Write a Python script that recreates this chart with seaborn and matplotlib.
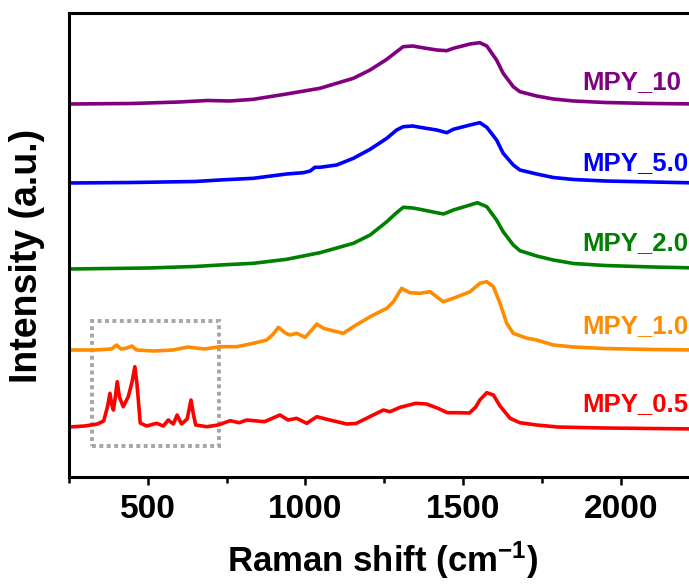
import numpy as np
import pandas as pd
import matplotlib
matplotlib.use("Agg")
import matplotlib.pyplot as plt
from matplotlib.patches import Rectangle
import seaborn as sns

# ---------------- data ----------------
series_names = ["MPY_10", "MPY_5.0", "MPY_2.0", "MPY_1.0", "MPY_0.5"]
series_colors = ["#800080", "#0000FF", "#008000", "#FF8C00", "#FF0000"]
offsets = [373, 294, 208, 127, 50]

x_mpy10 = [250, 450, 600, 690, 760, 835, 940, 1046, 1152, 1205, 1258, 1289, 1310, 1340,
           1363, 1416, 1448, 1469, 1522, 1553, 1575, 1606, 1627, 1659, 1680, 1733, 1786,
           1850, 1950, 2100, 2250]
y_mpy10 = [0, 0.5, 2, 3.5, 3, 4.7, 10, 15.7, 25.7, 34, 44.7, 52.3, 57.3, 58,
           56.7, 54, 53.3, 55.7, 60, 61.3, 58, 44, 30.7, 17.3, 12.3, 8, 5,
           3, 1.5, 0.5, 0]

x_mpy50 = [250, 450, 650, 729, 835, 940, 993, 1015, 1030, 1046, 1099, 1152, 1205, 1258,
           1289, 1310, 1340, 1363, 1416, 1448, 1469, 1522, 1553, 1575, 1606, 1627, 1659,
           1680, 1733, 1786, 1850, 1950, 2100, 2250]
y_mpy50 = [0, 0.5, 1.5, 3, 4.7, 9, 10.3, 12, 15.7, 15.7, 18, 24.7, 33.7, 44.7,
           53, 56.3, 57, 55.7, 53, 50.3, 53.7, 58, 60.3, 55.7, 43, 29.7, 18,
           13, 9, 5.5, 3.5, 2, 1, 0]

x_mpy20 = [250, 500, 650, 729, 835, 940, 1046, 1152, 1205, 1258, 1289, 1310, 1340, 1363,
           1416, 1438, 1469, 1522, 1545, 1575, 1606, 1627, 1659, 1680, 1733, 1786, 1850,
           1950, 2100, 2250]
y_mpy20 = [0, 1, 2.5, 4, 5.7, 9.7, 16.3, 25.7, 34, 47.3, 56.3, 61.7, 61, 59.7,
           56.3, 55, 59, 64, 66.3, 62.3, 49, 37.3, 24, 18.3, 13, 9, 5.5,
           3.5, 2, 1]

x_mpy10b = [250, 330, 385, 401, 415, 435, 449, 465, 520, 580, 627, 680, 729, 782, 835,
            877, 898, 914, 935, 951, 972, 999, 1020, 1036, 1057, 1099, 1120, 1152, 1205,
            1258, 1279, 1305, 1331, 1363, 1395, 1416, 1437, 1469, 1522, 1553, 1575, 1596,
            1617, 1638, 1659, 1700, 1733, 1786, 1850, 1950, 2100, 2250]
y_mpy10b = [0, 0, 1, 5, 1, 2, 4, 0, -1, 0, 3, 1, 3.3, 3.3, 6.7,
            10, 16, 22.7, 17.3, 15, 16.7, 12.7, 20, 26, 21.7, 18.3, 16.7, 23.3, 33.3,
            41.7, 48.3, 61.7, 57.3, 56.7, 58.3, 53.3, 48.3, 51.7, 58.3, 66.7, 68.3, 63.3,
            46.7, 26.7, 16.7, 12, 10, 5, 3, 1.5, 0.5, 0]

x_mpy05 = [250, 300, 340, 360, 372, 380, 386, 391, 397, 403, 410, 422, 438, 450, 459,
           465, 470, 476, 496, 528, 549, 565, 581, 593, 607, 625, 637, 645, 652, 687,
           723, 761, 790, 814, 870, 919, 945, 972, 1004, 1036, 1068, 1100, 1131, 1160,
           1200, 1247, 1268, 1300, 1350, 1384, 1420, 1450, 1480, 1520, 1540, 1553, 1575,
           1596, 1617, 1649, 1680, 1733, 1800, 1950, 2100, 2250]
y_mpy05 = [0, 1, 3, 6, 20, 33.7, 22, 17, 30, 45.3, 30, 20.3, 30.3, 45, 60.3,
           45, 27, 4, 1, 3.7, 1, 7, 3, 12, 3, 8, 27, 12, 2, 0.3,
           2, 6.3, 4.3, 7, 5.3, 12, 7, 8.7, 3.7, 10.3, 7.7, 5.3, 3, 3.5,
           9.7, 17, 15.3, 19.7, 23.7, 23, 18.7, 14.3, 14.3, 14, 20, 27, 34.3,
           32, 21, 8.7, 4.3, 2, 0, -1, -1.5, -2]

series_x = [x_mpy10, x_mpy50, x_mpy20, x_mpy10b, x_mpy05]
series_y = [y_mpy10, y_mpy50, y_mpy20, y_mpy10b, y_mpy05]

# highlighted region (dotted box)
box_shift = [322, 727]
box_int = [31, 156]

xticks_major = [500, 1000, 1500, 2000]
xticks_minor = [250, 750, 1250, 1750, 2250]

# ---------------- build table ----------------
rows = []
for name, xs, ys, off in zip(series_names, series_x, series_y, offsets):
    for xv, yv in zip(xs, ys):
        rows.append({"series": name, "shift": xv, "intensity": yv + off})
df = pd.DataFrame(rows)

# ---------------- plot ----------------
sns.set_theme(style="ticks")
plt.rcParams["font.family"] = ["Liberation Sans", "DejaVu Sans"]
plt.rcParams["font.weight"] = "bold"
plt.rcParams["text.color"] = "black"
plt.rcParams["axes.labelcolor"] = "black"
plt.rcParams["xtick.color"] = "black"
plt.rcParams["mathtext.fontset"] = "custom"
plt.rcParams["mathtext.rm"] = "Liberation Sans:bold"
plt.rcParams["mathtext.bf"] = "Liberation Sans:bold"
plt.rcParams["mathtext.default"] = "bf"

fig = plt.figure(figsize=(6.89, 5.85), dpi=100)
ax = fig.add_axes([0.1001, 0.1846, 0.9158, 0.7932])

sns.lineplot(data=df, x="shift", y="intensity", hue="series",
             hue_order=series_names, palette=series_colors,
             estimator=None, sort=True, linewidth=2.6, legend=False, ax=ax)

ax.add_patch(Rectangle((box_shift[0], box_int[0]), box_shift[1] - box_shift[0],
                       box_int[1] - box_int[0], fill=False, edgecolor="#A6A6A6",
                       linewidth=2.8, linestyle=(0, (1, 0.9)), zorder=1))

label_x = 1879
label_base = [388, 307, 227, 144, 66]
for name, col, yb in zip(series_names, series_colors, label_base):
    ax.text(label_x, yb, name, color=col, fontsize=18.5, fontweight="bold",
            ha="left", va="baseline")

ax.set_xlim(250, 2251)
ax.set_ylim(0, 464)
ax.set_xticks(xticks_major)
ax.set_xticks(xticks_minor, minor=True)
ax.set_xticklabels([str(v) for v in xticks_major])
ax.set_yticks([])
ax.tick_params(axis="x", which="major", length=6, width=1.8, pad=6,
               labelsize=24, direction="out", colors="black")
ax.tick_params(axis="x", which="minor", length=4, width=1.8, direction="out",
               colors="black")
for lab in ax.get_xticklabels():
    lab.set_fontweight("bold")

for side in ["left", "bottom", "top", "right"]:
    ax.spines[side].set_linewidth(2.2)
    ax.spines[side].set_color("black")

ax.set_xlabel("Raman shift (cm$^{-1}$)", fontsize=25, fontweight="bold",
              va="center", color="black")
ax.xaxis.set_label_coords(0.497, -0.18)
ax.set_ylabel("Intensity (a.u.)", fontsize=27, fontweight="bold", va="center",
              color="black")
ax.yaxis.set_label_coords(-0.066, 0.477)

fig.savefig("out.png", dpi=100)
